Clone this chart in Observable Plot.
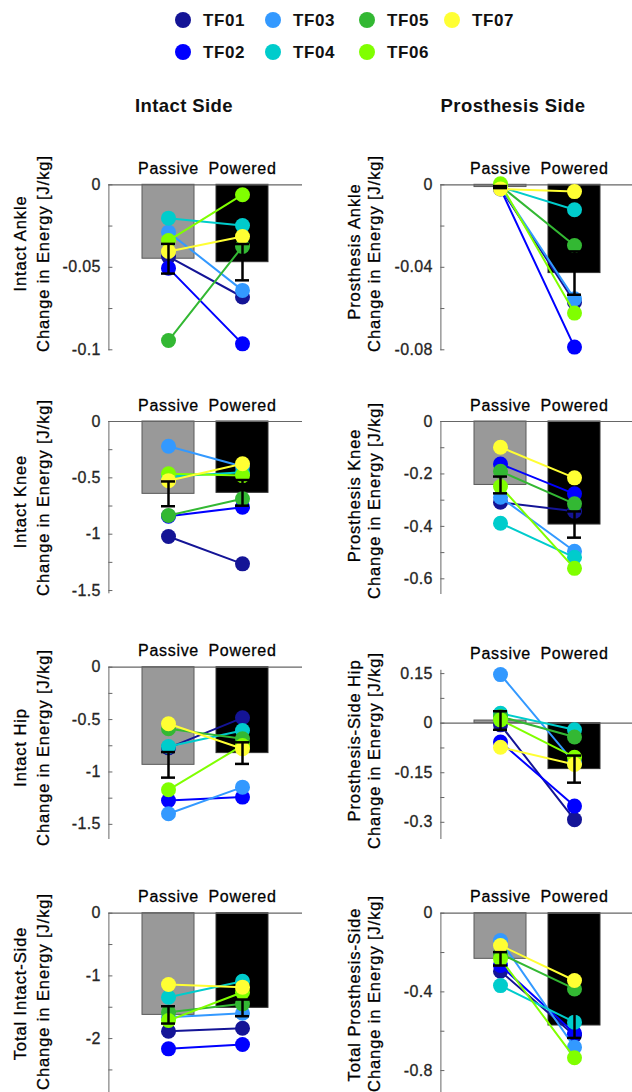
<!DOCTYPE html>
<html>
<head>
<meta charset="utf-8">
<script src="https://cdn.jsdelivr.net/npm/d3@7"></script>
<script src="https://cdn.jsdelivr.net/npm/@observablehq/plot@0.6"></script>
<style>
html, body { margin: 0; padding: 0; background: #fff; overflow: hidden; }
#page { position: relative; width: 632px; height: 1092px; overflow: hidden; background: #fff; font-family: "Liberation Sans", Arial, sans-serif; }
.panel { position: absolute; }
.panel svg text { letter-spacing: 0.5px; stroke: #111; stroke-width: 0.3px; paint-order: stroke; }
.panel g[aria-label="text"] text { letter-spacing: 0.9px; }
.panel g[aria-label="x-axis tick label"] text { letter-spacing: 0.7px; }
.panel g[aria-label="y-axis tick label"] text { letter-spacing: 0.4px; stroke: #2a2622; }
#header { position: absolute; left: 0; top: 0; }
</style>
</head>
<body>
<div id="page"></div>
<script>
// ---------------- DATA ----------------
const subjects = ["TF01", "TF02", "TF03", "TF04", "TF05", "TF06", "TF07"];
const conditions = ["Passive", "Powered"];
const sideTitles = ["Intact Side", "Prosthesis Side"];
const yLabelUnits = "Change in Energy [J/kg]";

// Intact Ankle
const intactAnklePassive = [-0.0435, -0.0505, -0.0287, -0.0202, -0.0944, -0.0338, -0.0404];
const intactAnklePowered = [-0.068, -0.0964, -0.064, -0.0247, -0.0374, -0.006, -0.0313];
const intactAnkleMean = [-0.0448, -0.0469];
const intactAnkleSE = [0.009, 0.011];
const intactAnkleLimits = [-0.1, 0];
const intactAnkleTicks = [0, -0.05, -0.1];
const intactAnkleTickLabels = ["0", "-0.05", "-0.1"];
const intactAnkleMinorTicks = [-0.025, -0.075];

// Prosthesis Ankle
const prosAnklePassive = [-0.0015, -0.002, -0.001, -0.001, -0.0005, 0.0005, -0.002];
const prosAnklePowered = [-0.0569, -0.0787, -0.0553, -0.0121, -0.0294, -0.0622, -0.0033];
const prosAnkleMean = [-0.0011, -0.0428];
const prosAnkleSE = [0.0005, 0.0105];
const prosAnkleLimits = [-0.08, 0];
const prosAnkleTicks = [0, -0.04, -0.08];
const prosAnkleTickLabels = ["0", "-0.04", "-0.08"];
const prosAnkleMinorTicks = [-0.02, -0.06];

// Intact Knee
const intactKneePassive = [-1.02, -0.84, -0.219, -0.49, -0.834, -0.464, -0.525];
const intactKneePowered = [-1.263, -0.76, -0.40, -0.45, -0.686, -0.48, -0.375];
const intactKneeMean = [-0.642, -0.633];
const intactKneeSE = [0.11, 0.114];
const intactKneeLimits = [-1.52, 0];
const intactKneeTicks = [0, -0.5, -1, -1.5];
const intactKneeTickLabels = ["0", "-0.5", "-1", "-1.5"];
const intactKneeMinorTicks = [-0.25, -0.75, -1.25];

// Prosthesis Knee
const prosKneePassive = [-0.308, -0.162, -0.289, -0.388, -0.19, -0.248, -0.098];
const prosKneePowered = [-0.342, -0.276, -0.495, -0.518, -0.314, -0.56, -0.215];
const prosKneeMean = [-0.242, -0.393];
const prosKneeSE = [0.032, 0.05];
const prosKneeLimits = [-0.656, 0];
const prosKneeTicks = [0, -0.2, -0.4, -0.6];
const prosKneeTickLabels = ["0", "-0.2", "-0.4", "-0.6"];
const prosKneeMinorTicks = [-0.1, -0.3, -0.5];

// Intact Hip
const intactHipPassive = [-0.77, -1.272, -1.399, -0.757, -0.588, -1.17, -0.54];
const intactHipPowered = [-0.483, -1.24, -1.145, -0.604, -0.683, -0.747, -0.779];
const intactHipMean = [-0.932, -0.82];
const intactHipSE = [0.122, 0.103];
const intactHipLimits = [-1.635, 0];
const intactHipTicks = [0, -0.5, -1, -1.5];
const intactHipTickLabels = ["0", "-0.5", "-1", "-1.5"];
const intactHipMinorTicks = [-0.25, -0.75, -1.25];

// Prosthesis-Side Hip
const prosHipPassive = [-0.005, -0.057, 0.147, 0.03, 0.02, 0.01, -0.073];
const prosHipPowered = [-0.292, -0.251, -0.12, -0.02, -0.042, -0.103, -0.125];
const prosHipMean = [0.008, -0.139];
const prosHipSE = [0.028, 0.041];
const prosHipLimits = [-0.349, 0.16];
const prosHipTicks = [0.15, 0, -0.15, -0.3];
const prosHipTickLabels = ["0.15", "0", "-0.15", "-0.3"];
const prosHipMinorTicks = [0.075, -0.075, -0.225];

// Total Intact-Side
const totalIntactPassive = [-1.883, -2.164, -1.66, -1.34, -1.58, -1.712, -1.138];
const totalIntactPowered = [-1.835, -2.095, -1.596, -1.085, -1.446, -1.26, -1.18];
const totalIntactMean = [-1.622, -1.51];
const totalIntactSE = [0.138, 0.133];
const totalIntactLimits = [-2.86, 0];
const totalIntactTicks = [0, -1, -2];
const totalIntactTickLabels = ["0", "-1", "-2"];
const totalIntactMinorTicks = [-0.5, -1.5, -2.5];

// Total Prosthesis-Side
const totalProsPassive = [-0.295, -0.266, -0.139, -0.368, -0.207, -0.232, -0.164];
const totalProsPowered = [-0.622, -0.61, -0.681, -0.554, -0.385, -0.735, -0.342];
const totalProsMean = [-0.232, -0.571];
const totalProsSE = [0.034, 0.063];
const totalProsLimits = [-0.91, 0];
const totalProsTicks = [0, -0.4, -0.8];
const totalProsTickLabels = ["0", "-0.4", "-0.8"];
const totalProsMinorTicks = [-0.2, -0.6];

// ---------------- STYLE ----------------
const subjectColors = ["#141496", "#0000ff", "#3399ff", "#00cccc", "#33b833", "#80ff00", "#ffff33"];
const barFills = ["#999999", "#000000"];
const barStrokes = ["#5a5a5a", "#333333"];
const axisGray = "#666666";

// ---------------- PANELS ----------------
const panelData = [
  {name: "Intact Ankle", passive: intactAnklePassive, powered: intactAnklePowered, mean: intactAnkleMean, se: intactAnkleSE, limits: intactAnkleLimits, ticks: intactAnkleTicks, tickLabels: intactAnkleTickLabels, minor: intactAnkleMinorTicks},
  {name: "Prosthesis Ankle", passive: prosAnklePassive, powered: prosAnklePowered, mean: prosAnkleMean, se: prosAnkleSE, limits: prosAnkleLimits, ticks: prosAnkleTicks, tickLabels: prosAnkleTickLabels, minor: prosAnkleMinorTicks},
  {name: "Intact Knee", passive: intactKneePassive, powered: intactKneePowered, mean: intactKneeMean, se: intactKneeSE, limits: intactKneeLimits, ticks: intactKneeTicks, tickLabels: intactKneeTickLabels, minor: intactKneeMinorTicks},
  {name: "Prosthesis Knee", passive: prosKneePassive, powered: prosKneePowered, mean: prosKneeMean, se: prosKneeSE, limits: prosKneeLimits, ticks: prosKneeTicks, tickLabels: prosKneeTickLabels, minor: prosKneeMinorTicks},
  {name: "Intact Hip", passive: intactHipPassive, powered: intactHipPowered, mean: intactHipMean, se: intactHipSE, limits: intactHipLimits, ticks: intactHipTicks, tickLabels: intactHipTickLabels, minor: intactHipMinorTicks},
  {name: "Prosthesis-Side Hip", passive: prosHipPassive, powered: prosHipPowered, mean: prosHipMean, se: prosHipSE, limits: prosHipLimits, ticks: prosHipTicks, tickLabels: prosHipTickLabels, minor: prosHipMinorTicks},
  {name: "Total Intact-Side", passive: totalIntactPassive, powered: totalIntactPowered, mean: totalIntactMean, se: totalIntactSE, limits: totalIntactLimits, ticks: totalIntactTicks, tickLabels: totalIntactTickLabels, minor: totalIntactMinorTicks},
  {name: "Total Prosthesis-Side", passive: totalProsPassive, powered: totalProsPowered, mean: totalProsMean, se: totalProsSE, limits: totalProsLimits, ticks: totalProsTicks, tickLabels: totalProsTickLabels, minor: totalProsMinorTicks}
];

// ---------------- LAYOUT (page pixels) ----------------
const rowBoxes = [[130, 365], [365, 605], [605, 850], [850, 1092]];
const colBoxes = [
  {left: 0, width: 316, plotLeft: 108.4, plotRight: 302, lab1: 25, lab2: 48},
  {left: 316, width: 318, plotLeft: 440.4, plotRight: 634, lab1: 359, lab2: 379}
];
const panelLayout = [
  {plotTop: 184.3, plotBottom: 349.3, lab: [243, 253]},
  {plotTop: 184.3, plotBottom: 349.3, lab: [251, 253]},
  {plotTop: 421, plotBottom: 592.3, lab: [501, 497]},
  {plotTop: 421, plotBottom: 593, lab: [495, 500]},
  {plotTop: 666.7, plotBottom: 838, lab: [747, 747]},
  {plotTop: 669.8, plotBottom: 838, lab: [740, 750]},
  {plotTop: 912.7, plotBottom: 1092, lab: [993, 991]},
  {plotTop: 912.7, plotBottom: 1091.7, lab: [994, 993]}
];
const legendDotX = [183, 273, 367, 452];
const legendRowY = [20, 52];
const titleX = [184, 513];
const titleY = 112;

const page = document.getElementById("page");

// Legend and side titles
const headerSvg = d3.select(page).append("svg").attr("id", "header").attr("width", 632).attr("height", 125)
  .style("font-family", "'Liberation Sans', Arial, sans-serif");
subjects.forEach((s, i) => {
  const cx = legendDotX[Math.floor(i / 2)], cy = legendRowY[i % 2];
  headerSvg.append("circle").attr("cx", cx).attr("cy", cy).attr("r", 8).attr("fill", subjectColors[i]);
  headerSvg.append("text").attr("x", cx + 20).attr("y", cy + 6).attr("font-size", 17).attr("font-weight", "bold")
    .attr("letter-spacing", "0.6px").attr("fill", "#111").text(s);
});
sideTitles.forEach((t, i) => {
  headerSvg.append("text").attr("x", titleX[i]).attr("y", titleY).attr("text-anchor", "middle")
    .attr("font-size", 18.5).attr("font-weight", "bold").attr("letter-spacing", "0.4px").attr("fill", "#111").text(t);
});

panelData.forEach((p, k) => {
  const L = panelLayout[k];
  const row = rowBoxes[Math.floor(k / 2)], col = colBoxes[k % 2];
  const svgTop = row[0], svgH = row[1] - row[0];
  const mt = L.plotTop - svgTop, mb = row[1] - L.plotBottom;
  const ml = col.plotLeft - col.left, mr = col.left + col.width - col.plotRight;

  const bars = conditions.map((c, j) => ({cond: c, mean: p.mean[j], lo: p.mean[j] - p.se[j], hi: p.mean[j] + p.se[j]}));
  const tickLabel = new Map(p.ticks.map((t, i) => [t, p.tickLabels[i]]));

  const subjMarks = subjects.flatMap((s, i) => {
    const pts = [{cond: conditions[0], value: p.passive[i]}, {cond: conditions[1], value: p.powered[i]}];
    return [
      Plot.line(pts, {x: "cond", y: "value", stroke: subjectColors[i], strokeWidth: 2}),
      Plot.dot(pts, {x: "cond", y: "value", r: 7.5, fill: subjectColors[i]})
    ];
  });

  const chart = Plot.plot({
    width: col.width,
    height: svgH,
    marginTop: mt, marginBottom: mb, marginLeft: ml, marginRight: mr,
    style: {fontFamily: "'Liberation Sans', Arial, sans-serif", fontSize: "16px", color: "#000", background: "transparent", overflow: "visible"},
    x: {type: "band", domain: conditions, paddingInner: 0.3, paddingOuter: 0.45, label: null},
    y: {domain: p.limits, label: null},
    marks: [
      Plot.frame({anchor: "left", stroke: axisGray}),
      Plot.barY(bars.filter(d => d.cond === conditions[0]), {x: "cond", y: "mean", fill: barFills[0], stroke: barStrokes[0], strokeWidth: 1}),
      Plot.barY(bars.filter(d => d.cond === conditions[1]), {x: "cond", y: "mean", fill: barFills[1], stroke: barStrokes[1], strokeWidth: 1}),
      Plot.ruleY([0], {stroke: axisGray, strokeWidth: 1.2}),
      Plot.axisX({anchor: "top", tickSize: 0, tickPadding: 11, fontSize: 16, fill: "#000", label: null}),
      Plot.axisY({anchor: "left", ticks: [...p.ticks, ...p.minor], tickSize: -4, stroke: axisGray, fill: "none", label: null}),
      Plot.axisY({anchor: "left", ticks: p.ticks, tickSize: 0, tickPadding: 8, tickFormat: d => tickLabel.get(d), fill: "#262626", fontSize: 16, label: null}),
      Plot.text([p.name], {text: d => d, frameAnchor: "top-left", dx: col.lab1 - col.plotLeft, dy: L.lab[0] - L.plotTop, rotate: -90, textAnchor: "middle", lineAnchor: "bottom", fontSize: 16.5, fill: "#000"}),
      Plot.text([yLabelUnits], {text: d => d, frameAnchor: "top-left", dx: col.lab2 - col.plotLeft, dy: L.lab[1] - L.plotTop, rotate: -90, textAnchor: "middle", lineAnchor: "bottom", fontSize: 16.5, fill: "#000"}),
      ...subjMarks,
      Plot.ruleX(bars, {x: "cond", y1: "lo", y2: "hi", stroke: "#000", strokeWidth: 2.5}),
      Plot.tickY(bars, {x: "cond", y: "lo", stroke: "#000", strokeWidth: 2.5, insetLeft: 19, insetRight: 19}),
      Plot.tickY(bars, {x: "cond", y: "hi", stroke: "#000", strokeWidth: 2.5, insetLeft: 19, insetRight: 19})
    ]
  });

  const holder = document.createElement("div");
  holder.className = "panel";
  holder.style.left = col.left + "px";
  holder.style.top = svgTop + "px";
  holder.style.width = col.width + "px";
  holder.style.height = svgH + "px";
  holder.appendChild(chart);
  page.appendChild(holder);
});
</script>
</body>
</html>
